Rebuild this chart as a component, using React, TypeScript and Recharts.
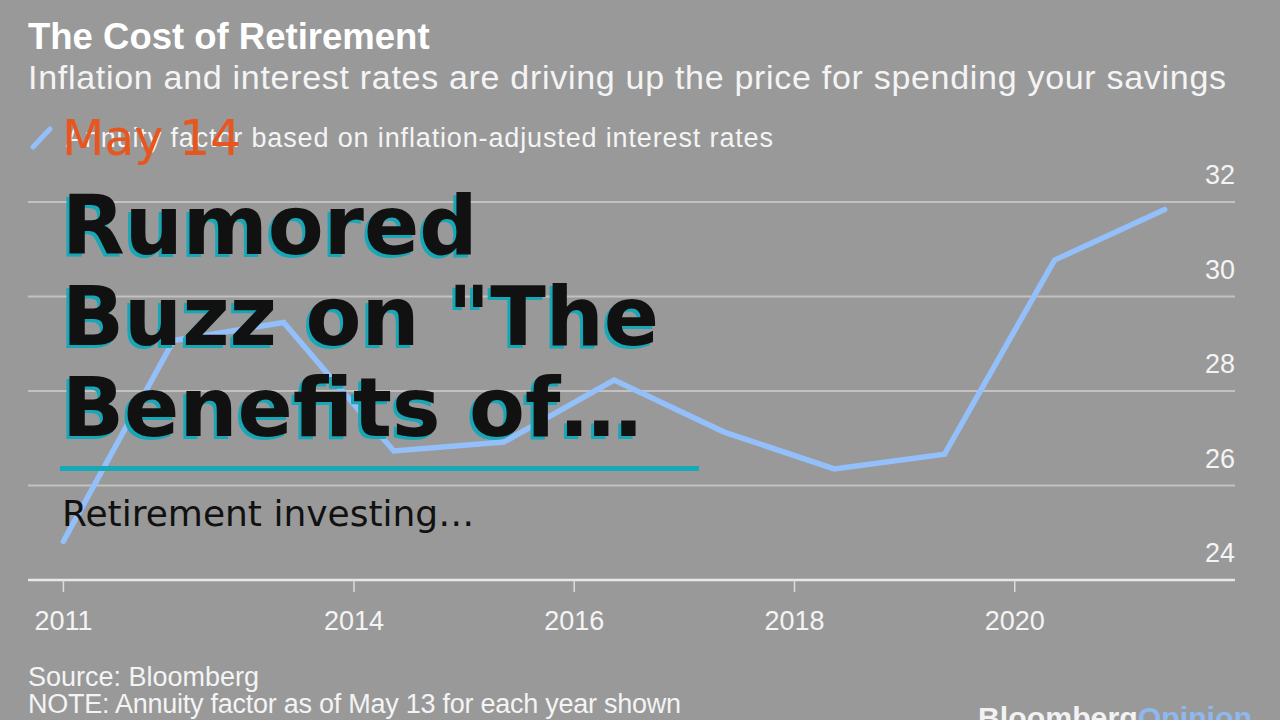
import React from 'react'
import { LineChart, Line, XAxis, YAxis, CartesianGrid } from 'recharts'

const years = [2011, 2012, 2013, 2014, 2015, 2016, 2017, 2018, 2019, 2020, 2021]
const annuityFactor = [24.82, 29.07, 29.45, 26.73, 26.92, 28.23, 27.13, 26.35, 26.66, 30.77, 31.84]
const yTicks = [24, 26, 28, 30, 32]
const xTickYears = [2011, 2014, 2016, 2018, 2020]

const MAY_13 = 132 / 365
const data = years.map((y, i) => ({ t: y + MAY_13, v: annuityFactor[i] }))
// first label sits on the first observation, the rest on Jan 1
const xTicks = xTickYears.map((y, i) => (i === 0 ? y + MAY_13 : y))

const chartFont = '"Liberation Sans", Arial, sans-serif'
const overlayFont = '"DejaVu Sans", sans-serif'

const XTick = (props: any) => (
  <text x={props.x} y={props.y + 36} textAnchor="middle" fill="#f4f4f4" fontSize={27} fontFamily={chartFont}>
    {Math.floor(props.payload.value)}
  </text>
)

const YTick = (props: any) => (
  <text x={props.x} y={props.y - 18} textAnchor="end" fill="#f4f4f4" fontSize={27} fontFamily={chartFont}>
    {props.payload.value}
  </text>
)

export default function App() {
  return (
    <div style={{ position: 'absolute', left: 0, top: 0, width: 1280, height: 720, background: '#999999', overflow: 'hidden' }}>
      <div style={{ position: 'absolute', left: 0, top: 0 }}>
        <LineChart width={1280} height={720} data={data} margin={{ top: 202, right: 44, bottom: 100, left: 28 }}>
          <CartesianGrid vertical={false} stroke="#c2c2c2" strokeWidth={2} />
          <XAxis
            dataKey="t"
            type="number"
            domain={[2011.04, 2022.0]}
            ticks={xTicks}
            interval={0}
            tickFormatter={(v: number) => String(Math.floor(v))}
            height={40}
            tickSize={12}
            tickMargin={2}
            tick={<XTick />}
            axisLine={{ stroke: '#e8e8e8', strokeWidth: 2.5 }}
            tickLine={{ stroke: '#dcdcdc', strokeWidth: 1.5 }}
          />
          <YAxis
            orientation="right"
            width={1}
            domain={[24, 32]}
            ticks={yTicks}
            interval={0}
            tickSize={0}
            tickMargin={0}
            axisLine={false}
            tickLine={false}
            tick={<YTick />}
          />
          <Line
            type="linear"
            dataKey="v"
            stroke="#93c0fa"
            strokeWidth={5.5}
            strokeLinecap="round"
            dot={false}
            activeDot={false}
            isAnimationActive={false}
          />
        </LineChart>
      </div>
      <svg width={1280} height={720} style={{ position: 'absolute', left: 0, top: 0, pointerEvents: 'none' }}>
        <g fontFamily={chartFont}>
          <text x={28} y={49} fontSize={36.5} fontWeight={700} fill="#ffffff">The Cost of Retirement</text>
          <text x={28} y={89} fontSize={34} fill="#f4f4f4" textLength={1198} lengthAdjust="spacing">
            Inflation and interest rates are driving up the price for spending your savings
          </text>
          <line x1={33} y1={147} x2={50} y2={129} stroke="#93c0fa" strokeWidth={5} strokeLinecap="round" />
          <text x={66} y={147} fontSize={27} fill="#f4f4f4" textLength={707} lengthAdjust="spacing">
            Annuity factor based on inflation-adjusted interest rates
          </text>
          <text x={28} y={686} fontSize={27} fill="#f4f4f4">Source: Bloomberg</text>
          <text x={28} y={713} fontSize={27} fill="#f4f4f4" textLength={653} lengthAdjust="spacing">
            NOTE: Annuity factor as of May 13 for each year shown
          </text>
          <text x={978} y={728} fontSize={30} fontWeight={700} textLength={274} lengthAdjust="spacingAndGlyphs">
            <tspan fill="#f2f2f2">Bloomberg</tspan>
            <tspan fill="#8db9f0">Opinion</tspan>
          </text>
        </g>
        <g fontFamily={overlayFont}>
          <text x={62} y={155} fontSize={49} fill="#e8561f">May 14</text>
          <g fontSize={81.5} fontWeight={700}>
            {['Rumored', 'Buzz on "The', 'Benefits of…'].map((s, i) => (
              <g key={i}>
                <text x={59} y={254 + i * 91 + 3} fill="#17a7b6">{s}</text>
                <text x={62} y={254 + i * 91} fill="#111111">{s}</text>
              </g>
            ))}
          </g>
          <rect x={60} y={466} width={639} height={5} fill="#17a9b8" />
          <text x={62} y={526} fontSize={36} fill="#111111">Retirement investing…</text>
        </g>
      </svg>
    </div>
  )
}
